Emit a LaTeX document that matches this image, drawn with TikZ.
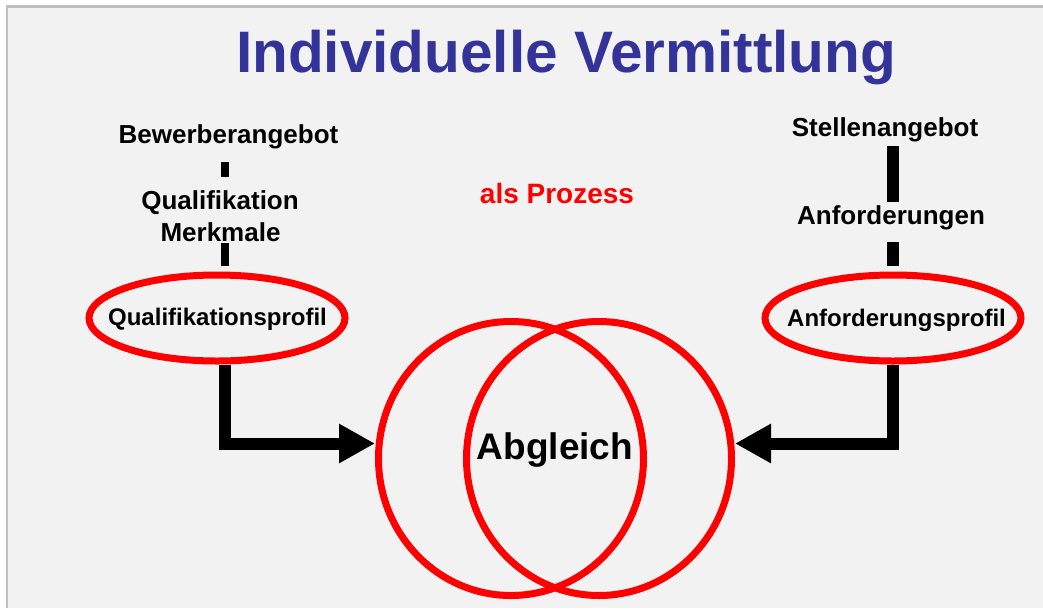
\documentclass[tikz,border=0pt]{standalone}
\usepackage{fontspec}
\setmainfont{Liberation Sans}
\usetikzlibrary{shapes.geometric,arrows.meta}
\definecolor{bgfill}{HTML}{F2F2F2}
\definecolor{framegray}{HTML}{C0C0C0}
\definecolor{titleblue}{HTML}{333399}
\definecolor{ringred}{HTML}{FF0000}
\begin{document}
\begin{tikzpicture}[x=1pt,y=-1pt,
  lbl/.style={font=\bfseries\fontsize{26}{30}\selectfont, inner sep=0pt, anchor=base},
  plbl/.style={font=\bfseries\fontsize{24}{28}\selectfont, inner sep=0pt, anchor=base},
  ring/.style={draw=ringred, line width=7pt, ellipse, inner sep=0pt},
  barthin/.style={line width=8pt, black},
  barthick/.style={line width=12pt, black},
  conn/.style={line width=12pt, black, line join=miter, -{Triangle[length=36pt,width=37pt]}}
]
\useasboundingbox (0,0) rectangle (1043,608);
\fill[white] (0,0) rectangle (1043,608);
\fill[bgfill] (7,6.5) rectangle (1043,608);
\draw[framegray, line width=2.5pt] (7,608) -- (7,6.5) -- (1043,6.5);

% title
\node[font=\bfseries\fontsize{58.5}{64}\selectfont, text=titleblue, inner sep=0pt, anchor=base] (title) at (566,72) {Individuelle Vermittlung};
\node[font=\bfseries\fontsize{28}{32}\selectfont, text=ringred, inner sep=0pt, anchor=base] (prozess) at (557,203) {als Prozess};

% left column
\node[lbl] (bew) at (228.5,143) {Bewerberangebot};
\node[lbl] (qual) at (220,209) {Qualifikation};
\node[lbl] (merk) at (220.5,241) {Merkmale};
\draw[barthin] (225,162) -- (225,177);
\draw[barthin] (225,243) -- (225,266);
\node[ring, minimum width=256pt, minimum height=86pt] (lprof) at (217,318) {};
\node[plbl] (lproftext) at (217.5,325) {Qualifikationsprofil};

% right column
\node[lbl] (stell) at (885,136) {Stellenangebot};
\node[lbl] (anf) at (891,224) {Anforderungen};
\draw[barthick] (893,146) -- (893,202);
\draw[barthick] (893,242) -- (893,266);
\node[ring, minimum width=256pt, minimum height=86pt] (rprof) at (893,318) {};
\node[plbl] (rproftext) at (896.5,326) {Anforderungsprofil};

% circles
\node[ring, minimum width=265pt, minimum height=274pt] (lcirc) at (511,458.5) {};
\node[ring, minimum width=265pt, minimum height=274pt] (rcirc) at (599,458.5) {};
\node[font=\bfseries\fontsize{37}{42}\selectfont, inner sep=0pt, anchor=base] (abgl) at (555,459) {Abgleich};

% connectors
\draw[conn] ([xshift=8pt]lprof.south) |- ([yshift=15pt]lcirc.west);
\draw[conn] (rprof.south) |- ([yshift=15pt]rcirc.east);
\end{tikzpicture}
\end{document}
